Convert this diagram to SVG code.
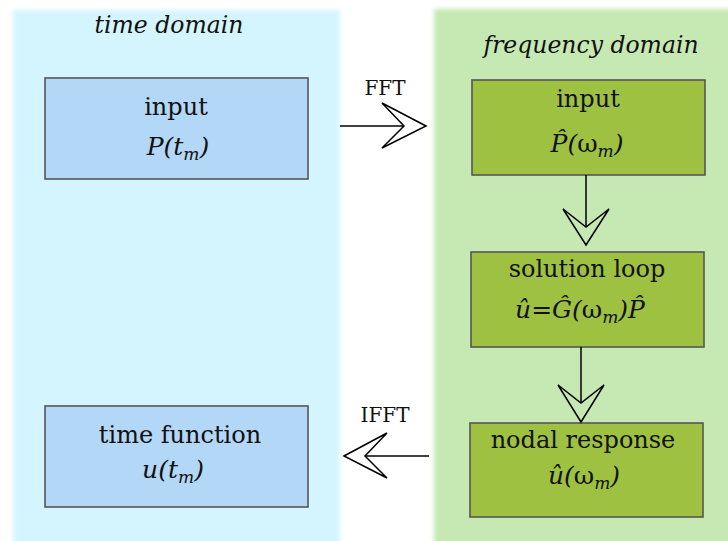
<svg xmlns="http://www.w3.org/2000/svg" width="728" height="541" viewBox="0 0 728 541">
<defs>
<filter id="soft" x="-5%" y="-5%" width="110%" height="110%"><feGaussianBlur stdDeviation="2.2"/></filter>
<style>
text{font-family:"DejaVu Serif","Liberation Serif",serif;fill:#111;text-anchor:middle}
.t{font-size:24px}
.h{font-size:23.5px;font-style:italic}
.it{font-size:25px;font-style:italic}
.up{font-style:normal}
.sub{font-size:17px;font-style:italic}
.lbl{font-size:20px}
.bn{fill:#b3d7f7;stroke:#555;stroke-width:1.6}
.gn{fill:#9fc141;stroke:#555;stroke-width:1.6}
.ln{stroke:#000;stroke-width:1.5;fill:none}
.ah{stroke:#000;stroke-width:1.5;fill:none;stroke-linejoin:miter}
</style>
</defs>
<rect width="728" height="541" fill="#fff"/>
<g id="time-domain">
<rect x="13" y="10" width="327" height="540" fill="#d4f4fe" filter="url(#soft)"/>
<text class="h" x="169" y="33">time domain</text>
</g>
<g id="frequency-domain">
<rect x="434" y="9" width="300" height="540" fill="#c6e9b3" filter="url(#soft)"/>
<text class="h" x="591" y="53">frequency domain</text>
</g>
<g id="input-time">
<rect class="bn" x="45" y="78" width="263" height="101"/>
<text class="t" x="176" y="115">input</text>
<text class="it" x="178" y="155">P(t<tspan class="sub" dy="5">m</tspan><tspan dy="-5">)</tspan></text>
</g>
<g id="time-function">
<rect class="bn" x="45" y="406" width="263" height="101"/>
<text class="t" x="180" y="443">time function</text>
<text class="it" x="173" y="478">u(t<tspan class="sub" dy="5">m</tspan><tspan dy="-5">)</tspan></text>
</g>
<g id="input-freq">
<rect class="gn" x="472" y="80" width="233" height="95"/>
<text class="t" x="588" y="107">input</text>
<text class="it" x="587" y="152">P̂(<tspan class="up">ω</tspan><tspan class="sub" dy="5">m</tspan><tspan dy="-5">)</tspan></text>
</g>
<g id="solution-loop">
<rect class="gn" x="471" y="252" width="233" height="95"/>
<text class="t" x="587" y="277">solution loop</text>
<text class="it" x="580" y="318">û=Ĝ(<tspan class="up">ω</tspan><tspan class="sub" dy="5">m</tspan><tspan dy="-5">)P̂</tspan></text>
</g>
<g id="nodal-response">
<rect class="gn" x="470" y="423" width="233" height="94"/>
<text class="t" x="583" y="448">nodal response</text>
<text class="it" x="584" y="484">û(<tspan class="up">ω</tspan><tspan class="sub" dy="5">m</tspan><tspan dy="-5">)</tspan></text>
</g>
<g id="connectors">
<line class="ln" x1="340" y1="126" x2="404" y2="126"/>
<polygon class="ah" points="426,126 382,103 404,126 382,148"/>
<text class="lbl" x="385" y="95">FFT</text>
<line class="ln" x1="586" y1="175" x2="586" y2="227"/>
<polygon class="ah" points="586,245 563,209 586,227 609,209"/>
<line class="ln" x1="581" y1="347" x2="581" y2="403"/>
<polygon class="ah" points="581,422 558,385 581,403 604,385"/>
<line class="ln" x1="429" y1="456" x2="365" y2="456"/>
<polygon class="ah" points="344,456 387,433 365,456 387,478"/>
<text class="lbl" x="385" y="422">IFFT</text>
</g>
</svg>
